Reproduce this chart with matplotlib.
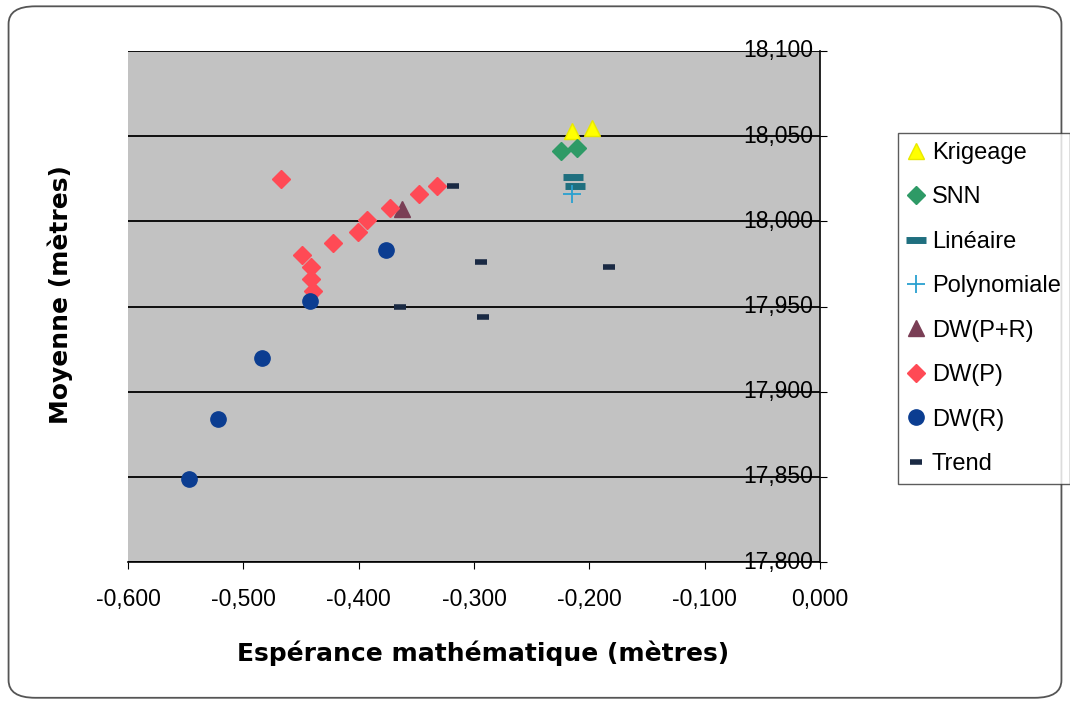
import matplotlib
matplotlib.use('Agg')
import matplotlib.pyplot as plt
from matplotlib.patches import FancyBboxPatch
from matplotlib.ticker import FuncFormatter, MultipleLocator
import numpy as np

plt.rcParams['font.family'] = ['Liberation Sans', 'DejaVu Sans']

# --- data ---
krig_x = [-0.215, -0.198]
krig_y = [18.053, 18.055]
snn_x = [-0.225, -0.211]
snn_y = [18.041, 18.043]
lin_x = [-0.214, -0.212]
lin_y = [18.026, 18.021]
poly_x = [-0.215]
poly_y = [18.016]
dwpr_x = [-0.362]
dwpr_y = [18.007]
dwp_x = [-0.467, -0.332, -0.348, -0.373, -0.393, -0.401, -0.422, -0.449, -0.441, -0.441, -0.440]
dwp_y = [18.025, 18.021, 18.016, 18.008, 18.001, 17.994, 17.987, 17.980, 17.973, 17.966, 17.959]
dwr_x = [-0.442, -0.376, -0.484, -0.522, -0.547]
dwr_y = [17.953, 17.983, 17.920, 17.884, 17.849]
trend_x = [-0.318, -0.294, -0.183, -0.364, -0.292]
trend_y = [18.021, 17.976, 17.973, 17.950, 17.944]

fmt = FuncFormatter(lambda v, p: f"{v:.3f}".replace('.', ','))

fig = plt.figure(figsize=(10.7, 7.02), dpi=100)
fig.patch.set_facecolor('white')
# rounded outer frame like the Excel chart area
frame = FancyBboxPatch((0.008, 0.006), 0.984, 0.985, boxstyle="round,pad=0,rounding_size=0.025",
                       transform=fig.transFigure, facecolor='white', edgecolor='#555555', lw=1.3,
                       zorder=-5)
fig.patches.append(frame)

ax = fig.add_axes([128 / 1070, 1 - 562 / 702, (820 - 128) / 1070, (562 - 51) / 702])
ax.set_facecolor('#c2c2c2')

series = [
    ("Krigeage", krig_x, krig_y, dict(marker='^', color='#ffff00', ms=11, mec='#e8e800')),
    ("SNN", snn_x, snn_y, dict(marker='D', color='#2e9a66', ms=9)),
    ("Linéaire", lin_x, lin_y, dict(marker='_', color='#1f6f7f', ms=14, mew=5)),
    ("Polynomiale", poly_x, poly_y, dict(marker='+', color='#2aa0d0', ms=13, mew=1.3)),
    ("DW(P+R)", dwpr_x, dwpr_y, dict(marker='^', color='#7a3e55', ms=12)),
    ("DW(P)", dwp_x, dwp_y, dict(marker='D', color='#ff4a55', ms=9)),
    ("DW(R)", dwr_x, dwr_y, dict(marker='o', color='#0b3d91', ms=11)),
    ("Trend", trend_x, trend_y, dict(marker='_', color='#1a2a44', ms=9, mew=4)),
]
for name, xs, ys, st in series:
    ax.plot(xs, ys, ls='none', label=name, **st)

ax.set_xlim(-0.6, 0.0)
ax.set_ylim(17.8, 18.1)
ax.xaxis.set_major_locator(MultipleLocator(0.1))
ax.yaxis.set_major_locator(MultipleLocator(0.05))
ax.xaxis.set_major_formatter(fmt)
ax.grid(axis='y', color='black', lw=1.3)
ax.set_axisbelow(True)
for s in ['left', 'top']:
    ax.spines[s].set_visible(False)
ax.spines['bottom'].set_linewidth(1.2)
ax.spines['right'].set_linewidth(1.2)

# y axis crosses at x=0 (right edge) with labels on its left side, inside the plot area
ax.tick_params(axis='y', left=False, labelleft=False, right=True, direction='out', length=5)
ax.tick_params(axis='x', direction='out', length=5, labelsize=16.5, pad=14)
for v in ax.get_yticks():
    if 17.8 - 1e-9 <= v <= 18.1 + 1e-9:
        ax.text(-0.006, v, fmt(v, None), ha='right', va='center', fontsize=16.5,
                transform=ax.transData)

lab_font = dict(fontsize=18, fontweight='bold', family=['DejaVu Sans'])
ax.set_xlabel("Espérance mathématique (mètres)", **lab_font)
ax.xaxis.set_label_coords((483 - 128) / 692, -(653 - 562) / 511)
ax.xaxis.label.set_va('center')
fig.text(60 / 1070, 1 - 295 / 702, "Moyenne (mètres)", rotation=90,
         ha='center', va='center', **lab_font)

leg = ax.legend(loc='upper left', bbox_to_anchor=(898 / 1070, 1 - 133 / 702),
                bbox_transform=fig.transFigure, frameon=True, fancybox=False,
                fontsize=17, labelspacing=0.95, handlelength=0.8, handletextpad=0.25,
                borderpad=0.38, borderaxespad=0)
leg.get_frame().set_edgecolor('#333333')
leg.get_frame().set_linewidth(1.0)

plt.savefig('out.png', dpi=100)
plt.close()
